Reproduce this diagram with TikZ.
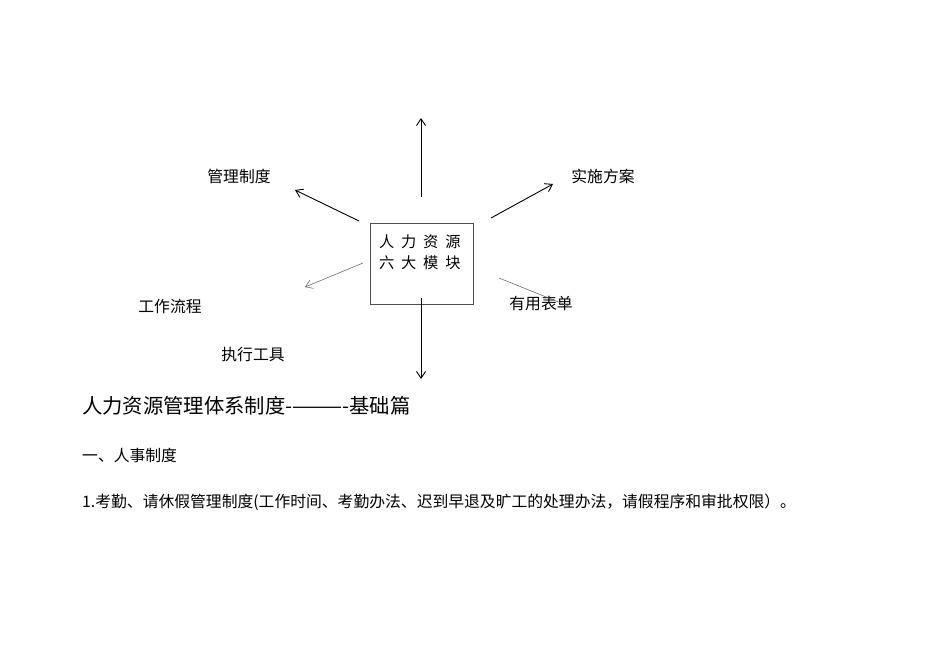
\documentclass[tikz,border=0pt]{standalone}
\usepackage{fontspec}
\newfontfamily\cjk{Noto Sans CJK SC}
\usetikzlibrary{positioning,arrows.meta}
\usepackage{xcolor}

\begin{document}
\begin{tikzpicture}
[x=0.886pt, y=-0.886pt,
every node/.style={inner sep=0pt, font=\cjk\fontsize{14pt}{17pt}\selectfont},
% The module style is used for the little labels round the box
module/.style={anchor=center},
% The para style is used for the lines of text under the diagram
para/.style={anchor=west},
% The main arrows are black, the thin ones are grey
big/.style={-{Straight Barb[length=6pt,width=8pt]}, line width=0.8pt, black},
thin/.style={line width=0.5pt, black!60}
]
\useasboundingbox (0,0) rectangle (950,672);
% Draw the box
\draw(421.5,263.5)node[draw, line width=0.6pt, black!70, minimum width=91pt, minimum height=72pt](box){};
\draw(379,252.5)node[anchor=west, font=\cjk\fontsize{13.5pt}{18.6pt}\selectfont, align=left, text=black](boxtext){人\hspace{6pt}力\hspace{6pt}资\hspace{6pt}源\\六\hspace{6pt}大\hspace{6pt}模\hspace{6pt}块};
% Draw modules
\draw(239,176)node[module](mgmt){管理制度};
\draw(603,176)node[module](plan){实施方案};
\draw(170,306)node[module](flow){工作流程};
\draw(541,304)node[module](forms){有用表单};
\draw(253,355)node[module](tools){执行工具};
% Arrow ends
\coordinate(upA) at (421,197);
\coordinate(upB) at (421,118);
\coordinate(ulA) at (359,221);
\coordinate(ulB) at (295,190);
\coordinate(urA) at (491,218);
\coordinate(urB) at (553,184);
\coordinate(llA) at (363,263);
\coordinate(llB) at (305,287);
\coordinate(lrA) at (499,278);
\coordinate(lrB) at (571,307);
\coordinate(dnA) at (421,298);
\coordinate(dnB) at (421,379);
\draw[big](upA)--(upB);
\draw[big](ulA)--(ulB);
\draw[big](urA)--(urB);
\draw[big](dnA)--(dnB);
\draw[thin,-{Straight Barb[length=6pt,width=8pt]}](llA)--(llB);
\draw[thin](lrA)--(lrB);
%\draw(box.south)--(dnB);
% Text under the diagram
\draw(82,406)node[para, font=\cjk\fontsize{18pt}{21pt}\selectfont](title){人力资源管理体系制度-———-基础篇};
\draw(82,455)node[para](sect){一、人事制度};
\draw(82,502)node[para](item){1.考勤、请休假管理制度(工作时间、考勤办法、迟到早退及旷工的处理办法，请假程序和审批权限）。};
\end{tikzpicture}
\end{document}
